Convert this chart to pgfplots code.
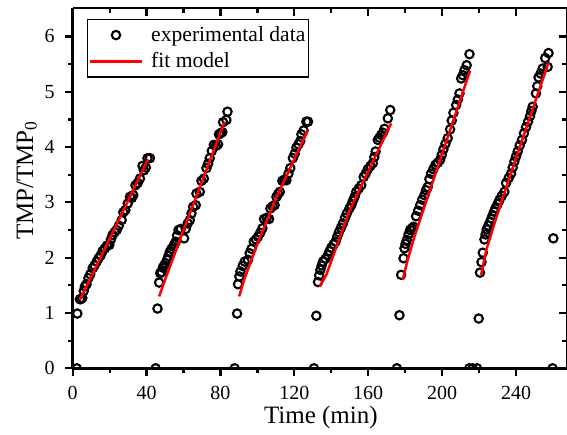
\documentclass[border=0pt]{standalone}
\usepackage{fontspec}
\setmainfont{Liberation Serif}
\usepackage{pgfplots}
\pgfplotsset{compat=1.18}
\pgfplotsset{
  marklegend/.style={legend image code/.code={\draw[mark repeat=2,mark phase=2,##1] plot coordinates {(0pt,0pt)(13pt,0pt)(26pt,0pt)};}},
  linelegend/.style={legend image code/.code={\draw[##1] (0pt,0pt) -- (26pt,0pt);}},
  commonaxis/.style={
    scale only axis, width=247.15pt, height=180.15pt,
    xmin=0, xmax=267.6, ymin=0, ymax=6.515,
    xtick={0,40,...,240}, minor x tick num=1,
    ytick={0,1,2,3,4,5,6}, minor y tick num=1,
    major tick length=4pt, minor tick length=2.3pt,
    every tick/.style={black, line width=1.1pt},
    axis line style={-, line width=1.3pt, black},
  }
}
\begin{document}
\begin{tikzpicture}
\useasboundingbox (-36.35pt,-32.85pt) rectangle (247.15pt,184.15pt);
\begin{axis}[commonaxis,
  axis x line*=bottom, axis y line*=left, tick align=outside,
  clip marker paths=true,
  /pgf/number format/assume math mode=true,
  tick label style={font=\fontsize{10}{12}\selectfont},
  xticklabel style={yshift=-1.5pt},
  yticklabel style={xshift=-1.5pt},
  xlabel={Time (min)},
  ylabel={TMP/TMP\textsubscript{0}},
  every axis x label/.style={at={(axis description cs:0.502,-0.1532)}, anchor=base, font=\fontsize{12.5}{14}\selectfont},
  every axis y label/.style={at={(axis description cs:-0.0803,0.522)}, anchor=base, rotate=90, font=\fontsize{12.5}{14}\selectfont},
  legend style={at={(axis description cs:0.029,0.9695)}, anchor=north west, draw=black, line width=0.7pt, fill=white,
    inner xsep=0.5pt, inner ysep=2.2pt, font=\fontsize{10.8}{12}\selectfont, row sep=2.2pt,
    nodes={inner sep=1pt}, cells={anchor=west},
    /tikz/every odd column/.append style={column sep=3pt}},
]
\addplot[only marks, mark=o, mark size=2.1pt, mark options={draw=black, line width=1.05pt}, marklegend]
  coordinates {
  (2.2,0)(44.9,0)(87.7,0)(130.6,0)(175.5,0)(214.7,0)(216.5,0)(218.9,0)(259.8,0)
  (2.5,0.99)(3.9,1.25)(4.4,1.25)(5.2,1.27)(6.0,1.40)(6.6,1.48)(7.5,1.52)(8.5,1.63)(9.5,1.70)(10.8,1.81)(11.8,1.86)(13.0,1.93)(14.0,1.99)(15.1,2.04)(16.2,2.12)(17.5,2.17)(18.6,2.22)(19.8,2.23)(20.7,2.33)(21.6,2.41)(22.7,2.46)(23.8,2.50)(25.0,2.58)(26.5,2.68)(27.4,2.82)(28.5,2.86)(29.8,2.98)(31.0,3.10)(32.0,3.08)(32.8,3.13)(34.0,3.31)(35.2,3.35)(36.4,3.43)(37.8,3.66)(38.6,3.58)(39.6,3.63)(40.5,3.80)(41.8,3.80)
  (45.9,1.08)(46.8,1.55)(47.4,1.72)(48.1,1.74)(48.8,1.82)(49.5,1.86)(50.3,1.90)(51.1,1.96)(51.8,2.03)(52.6,2.11)(53.5,2.16)(54.4,2.20)(55.1,2.24)(55.8,2.29)(56.5,2.40)(57.3,2.50)(58.5,2.52)(60.3,2.35)(61.2,2.52)(62.3,2.62)(63.4,2.68)(64.3,2.80)(65.2,2.92)(66.6,2.95)(67.0,3.16)(68.8,3.19)(69.7,3.39)(71.0,3.43)(72.4,3.62)(73.3,3.70)(74.2,3.80)(75.3,3.93)(76.4,4.04)(77.5,4.02)(78.7,4.05)(79.2,4.23)(80.0,4.25)(81.0,4.27)(81.4,4.45)(83.2,4.49)(83.8,4.64)
  (89.0,0.99)(89.5,1.52)(90.2,1.66)(90.8,1.75)(92.0,1.85)(93.1,1.93)(94.9,1.96)(95.8,2.08)(96.8,2.16)(98.0,2.29)(99.2,2.33)(100.3,2.38)(101.5,2.45)(102.7,2.53)(103.6,2.70)(105.0,2.72)(106.3,2.70)(107.0,2.89)(108.2,2.93)(109.3,2.95)(110.3,3.10)(111.2,3.15)(112.1,3.19)(113.5,3.39)(114.6,3.41)(115.7,3.40)(116.8,3.52)(117.8,3.62)(119.2,3.80)(120.2,3.88)(121.1,3.99)(122.2,4.05)(123.2,4.11)(123.8,4.23)(125.0,4.30)(126.5,4.46)(127.4,4.46)
  (131.9,0.95)(132.8,1.56)(133.4,1.68)(134.1,1.78)(134.8,1.86)(135.5,1.93)(136.8,1.98)(138.2,2.05)(139.1,2.12)(140.0,2.18)(141.2,2.24)(142.3,2.29)(143.2,2.38)(144.1,2.46)(145.2,2.54)(146.3,2.62)(147.4,2.72)(148.4,2.80)(149.8,2.89)(150.8,2.95)(151.7,3.03)(152.6,3.10)(153.5,3.19)(154.8,3.25)(156.2,3.31)(157.5,3.46)(158.6,3.52)(159.8,3.60)(161.2,3.66)(162.5,3.71)(163.3,3.82)(164.0,3.92)(165.2,4.13)(166.1,4.17)(167.0,4.22)(168.0,4.26)(168.8,4.33)(170.6,4.52)(171.9,4.67)
  (176.9,0.96)(177.8,1.69)(179.1,1.99)(179.6,2.17)(180.2,2.25)(180.9,2.32)(181.8,2.42)(182.7,2.50)(183.6,2.53)(184.5,2.56)(185.9,2.75)(187.0,2.85)(188.1,2.95)(189.2,3.05)(190.4,3.13)(191.3,3.22)(192.2,3.28)(193.1,3.42)(194.0,3.52)(195.2,3.60)(196.4,3.68)(197.7,3.72)(198.9,3.77)(199.8,3.86)(200.7,3.96)(201.8,4.06)(203.0,4.16)(204.3,4.32)(205.2,4.48)(206.1,4.62)(207.6,4.76)(208.5,4.86)(209.4,4.97)(210.3,5.24)(211.2,5.30)(212.1,5.39)(213.3,5.48)(214.8,5.68)
  (219.8,0.90)(220.5,1.73)(221.3,1.92)(222.0,2.09)(222.9,2.33)(223.5,2.42)(224.1,2.51)(225.0,2.58)(226.0,2.65)(226.7,2.71)(227.4,2.77)(228.1,2.83)(228.8,2.89)(230.0,2.97)(231.0,3.04)(232.3,3.12)(233.7,3.19)(234.6,3.35)(236.0,3.44)(237.3,3.52)(238.2,3.63)(239.1,3.74)(240.0,3.83)(240.9,3.92)(242.0,4.03)(243.2,4.13)(244.3,4.25)(245.4,4.36)(246.5,4.46)(247.6,4.56)(248.3,4.65)(249.0,4.73)(250.8,4.97)(251.5,5.10)(252.2,5.26)(253.3,5.33)(254.4,5.42)(255.8,5.61)(257.1,5.45)(257.6,5.70)
  (260.2,2.35)
  };
\addlegendentry{experimental data}
\addplot[color=red, line width=1.25pt, unbounded coords=jump, linelegend]
  coordinates {
  (3.9,1.24)(20,2.34)(40.8,3.78)
  (46.8,nan)
  (46.8,1.30)(50,1.60)(60,2.50)(70,3.38)(82.3,4.46)
  (90.1,nan)
  (90.1,1.30)(93,1.62)(100,2.25)(110,3.07)(127.4,4.31)
  (133.7,nan)
  (133.7,1.48)(137.3,1.69)(150,2.86)(172.4,4.43)
  (178.7,nan)
  (178.7,1.60)(181,1.92)(185,2.38)(190,2.88)(200,3.88)(215.1,5.38)
  (221.1,nan)
  (221.1,1.69)(224,2.15)(230,2.80)(240,3.80)(257.6,5.53)
  };
\addlegendentry{fit model}
\end{axis}
\begin{axis}[commonaxis,
  axis x line*=top, axis y line*=right, tick align=inside,
  xticklabels={}, yticklabels={},
]
\end{axis}
\end{tikzpicture}
\end{document}
